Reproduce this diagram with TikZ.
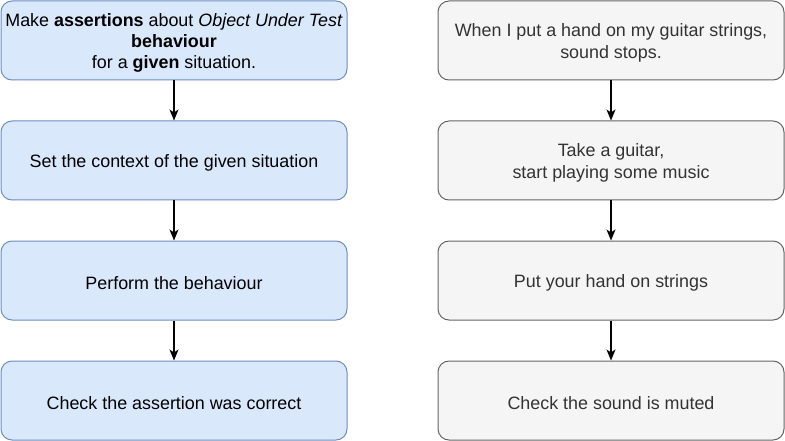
\documentclass[tikz,border=0pt]{standalone}
\usepackage{fontspec}
\setmainfont{Liberation Sans}
\usetikzlibrary{arrows.meta}
\definecolor{bluefill}{HTML}{DAE8FC}
\definecolor{bluestroke}{HTML}{6C8EBF}
\definecolor{greyfill}{HTML}{F5F5F5}
\definecolor{greystroke}{HTML}{666666}
\definecolor{greytext}{HTML}{333333}
\tikzset{
  x=1pt, y=-1pt,
  box/.style={rectangle, rounded corners=11pt, minimum width=346pt, minimum height=79pt,
    line width=1pt, inner sep=0pt},
  bluebox/.style={box, fill=bluefill, draw=bluestroke},
  greybox/.style={box, fill=greyfill, draw=greystroke},
  txt/.style={align=center, inner sep=0pt, yshift=-2.5pt,
    font=\fontsize{17.9}{21.3}\selectfont},
  bluetxt/.style={txt, text=black},
  greytxt/.style={txt, text=greytext},
  conn/.style={-{Stealth[length=11pt,width=9pt,inset=3pt]}, line width=1.5pt, black}
}
\begin{document}
\begin{tikzpicture}
\useasboundingbox (0,0) rectangle (785,441);
\node[bluebox, label={[bluetxt]center:{Make \textbf{assertions} about \textit{Object Under Test}\\\textbf{behaviour}\\for a \textbf{given} situation.}}] (l1) at (174,40.5) {};
\node[bluebox, label={[bluetxt]center:{Set the context of the given situation}}] (l2) at (174,160.5) {};
\node[bluebox, label={[bluetxt]center:{Perform the behaviour}}] (l3) at (174,280.5) {};
\node[bluebox, label={[bluetxt]center:{Check the assertion was correct}}] (l4) at (174,400.5) {};
\node[greybox, label={[greytxt]center:{When I put a hand on my guitar strings,\\sound stops.}}] (r1) at (611,40.5) {};
\node[greybox, label={[greytxt]center:{Take a guitar,\\start playing some music}}] (r2) at (611,160.5) {};
\node[greybox, label={[greytxt]center:{Put your hand on strings}}] (r3) at (611,280.5) {};
\node[greybox, label={[greytxt]center:{Check the sound is muted}}] (r4) at (611,400.5) {};
\draw[conn] (l1) -- (l2);
\draw[conn] (l2) -- (l3);
\draw[conn] (l3) -- (l4);
\draw[conn] (r1) -- (r2);
\draw[conn] (r2) -- (r3);
\draw[conn] (r3) -- (r4);
\end{tikzpicture}
\end{document}
